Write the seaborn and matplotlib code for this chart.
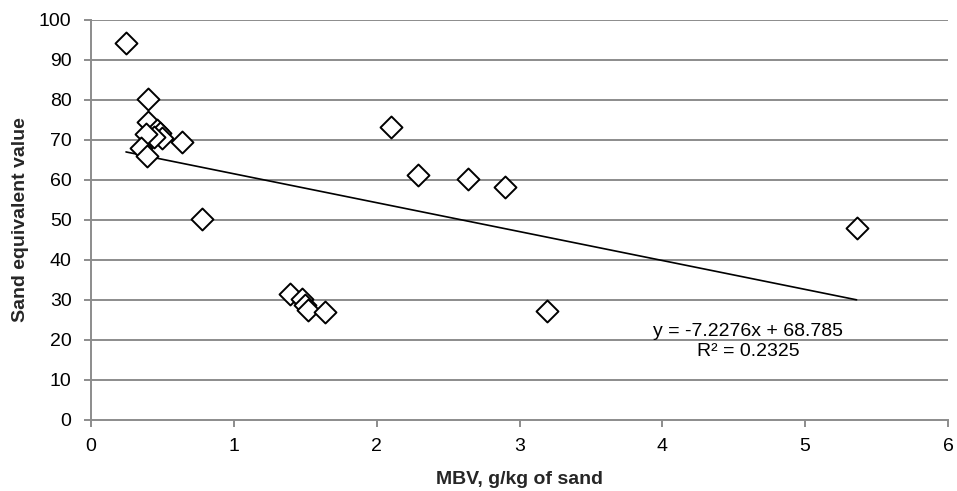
import numpy as np
import pandas as pd
import matplotlib
matplotlib.use("Agg")
import matplotlib.pyplot as plt
import seaborn as sns

# Data
mbv = [0.245, 0.40, 0.40, 0.46, 0.483, 0.50, 0.443, 0.383, 0.64, 0.35, 0.39,
       0.777, 2.10, 2.29, 2.64, 2.90, 5.36, 1.394, 1.475, 1.50, 1.52, 1.639, 3.19]
se = [94.2, 80.2, 74.6, 72.5, 71.7, 70.4, 70.8, 71.4, 69.6, 68, 66,
      50.2, 73.2, 61.2, 60.2, 58.2, 48.1, 31.5, 30.3, 28.8, 27.6, 27.1, 27.2]

# Linear trend reported on the chart
slope = -7.2276
intercept = 68.785
trend_label = "y = -7.2276x + 68.785\nR² = 0.2325"

x_ticks = [0, 1, 2, 3, 4, 5, 6]
y_ticks = [0, 10, 20, 30, 40, 50, 60, 70, 80, 90, 100]

df = pd.DataFrame({"MBV": mbv, "SE": se})
trend_x = [min(mbv), max(mbv)]
trend = pd.DataFrame({"MBV": trend_x,
                      "SE": [slope * v + intercept for v in trend_x]})

sns.set_theme(style="white")
plt.rcParams['font.family'] = ['Liberation Sans', 'DejaVu Sans']

fig = plt.figure(figsize=(9.57, 4.91), dpi=100)
ax = fig.add_axes([91/957, 1 - 420/491, (948 - 91)/957, 400/491])

grid_c = "#8c8c8c"
for yv in y_ticks[1:]:
    ax.axhline(yv, color=grid_c, lw=1.4, zorder=0)

sns.lineplot(data=trend, x="MBV", y="SE", ax=ax, color="black", lw=1.2,
             zorder=2)
sns.scatterplot(data=df, x="MBV", y="SE", ax=ax, marker="D", s=125,
                facecolor="white", edgecolor="black", linewidth=1.4,
                zorder=3)

ax.set_xlim(0, 6)
ax.set_ylim(0, 100)
ax.set_xticks(x_ticks)
ax.set_yticks(y_ticks)
ax.set_xticklabels([str(v) for v in x_ticks])
ax.set_yticklabels([str(v) for v in y_ticks])

for s in ["top", "right"]:
    ax.spines[s].set_visible(False)
for s in ["left", "bottom"]:
    ax.spines[s].set_color(grid_c)
    ax.spines[s].set_linewidth(1.4)

ax.tick_params(axis="both", direction="out", length=5, width=1.4,
               color=grid_c, labelsize=14, labelcolor="black")
ax.tick_params(axis="y", pad=9, left=True)
ax.tick_params(axis="x", pad=8, bottom=True)

ax.set_xlabel("MBV, g/kg of sand", fontsize=14, fontweight="bold")
ax.set_ylabel("Sand equivalent value", fontsize=14, fontweight="bold")
ax.xaxis.set_label_coords(0.5, -0.1475)
ax.xaxis.label.set_va("center")
ax.yaxis.set_label_coords(-(91 - 21) / 857, 0.5)
ax.yaxis.label.set_va("center")

ax.text(4.60, 19.6, trend_label, ha="center", va="center", fontsize=14,
        linespacing=1.25, color="black")

fig.savefig("out.png", dpi=100)
